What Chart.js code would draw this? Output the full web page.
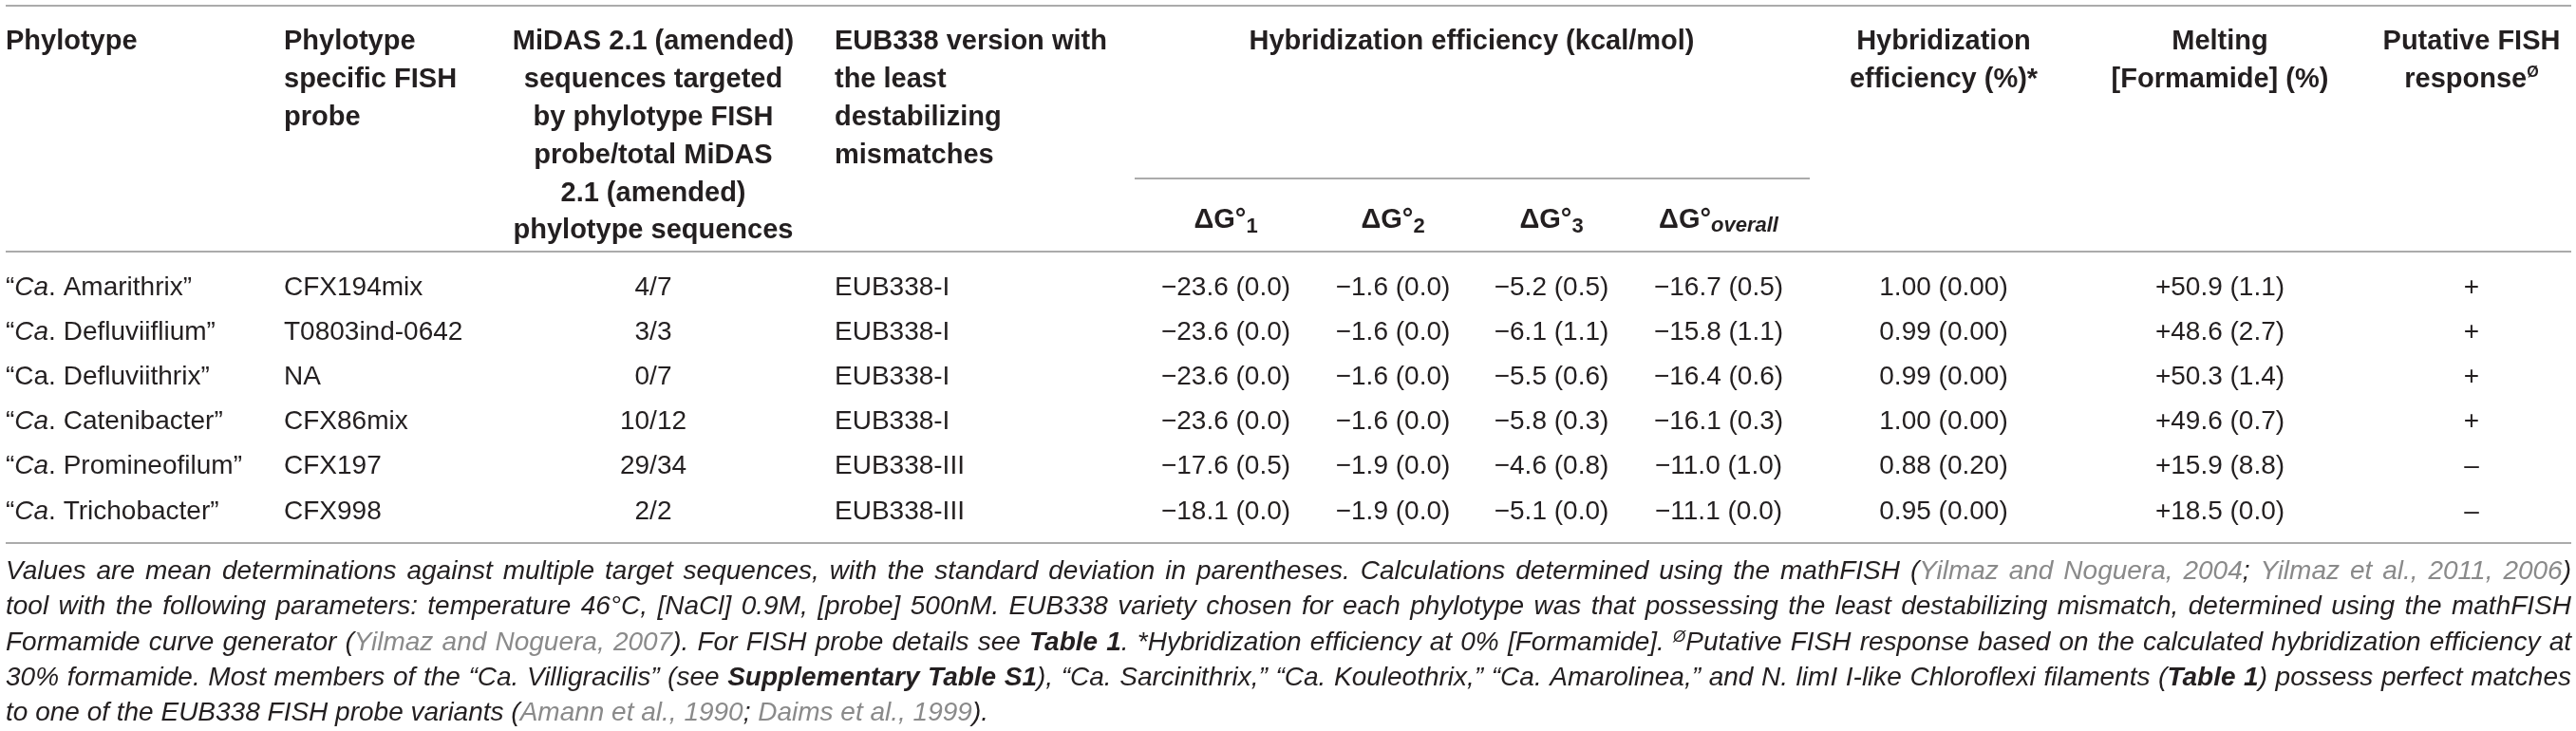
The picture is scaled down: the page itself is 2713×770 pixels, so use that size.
<!DOCTYPE html>
<html lang="en">
<head>
<meta charset="utf-8">
<title>EUB338 hybridization efficiency per phylotype</title>
<script src="https://cdn.jsdelivr.net/npm/chart.js@4.4.1/dist/chart.umd.min.js"></script>
<style>
  html, body { margin: 0; padding: 0; background: #fff; overflow: hidden; }
  #wrap { position: relative; width: 2713px; height: 770px; }
</style>
</head>
<body>
<div id="wrap"><canvas id="tabla"></canvas></div>
<script>
const phylotypes = ['Amarithrix', 'Defluviiflium', 'Defluviithrix', 'Catenibacter', 'Promineofilum', 'Trichobacter'];
const caItalic = [true, true, false, true, true, true];
const probes = ['CFX194mix', 'T0803ind-0642', 'NA', 'CFX86mix', 'CFX197', 'CFX998'];
const targeted = ['4/7', '3/3', '0/7', '10/12', '29/34', '2/2'];
const eubVersion = ['EUB338-I', 'EUB338-I', 'EUB338-I', 'EUB338-I', 'EUB338-III', 'EUB338-III'];
const dG1 = [-23.6, -23.6, -23.6, -23.6, -17.6, -18.1];
const dG1Sd = [0.0, 0.0, 0.0, 0.0, 0.5, 0.0];
const dG2 = [-1.6, -1.6, -1.6, -1.6, -1.9, -1.9];
const dG2Sd = [0.0, 0.0, 0.0, 0.0, 0.0, 0.0];
const dG3 = [-5.2, -6.1, -5.5, -5.8, -4.6, -5.1];
const dG3Sd = [0.5, 1.1, 0.6, 0.3, 0.8, 0.0];
const dGOverall = [-16.7, -15.8, -16.4, -16.1, -11.0, -11.1];
const dGOverallSd = [0.5, 1.1, 0.6, 0.3, 1.0, 0.0];
const hybEfficiency = [1.00, 0.99, 0.99, 1.00, 0.88, 0.95];
const hybEfficiencySd = [0.00, 0.00, 0.00, 0.00, 0.20, 0.00];
const meltingFormamide = [50.9, 48.6, 50.3, 49.6, 15.9, 18.5];
const meltingSd = [1.1, 2.7, 1.4, 0.7, 8.8, 0.0];
const fishResponse = ['+', '+', '+', '+', '–', '–'];

const FONT = '"Liberation Sans", Arial, Helvetica, sans-serif';
const TEXT = '#231f20';
const CITE = '#8a8a8a';
const RULE = '#8f8f8f';

const BODY = { size: 28, bold: false, italic: false, color: TEXT };
const HEAD = { size: 29, bold: true, italic: false, color: TEXT };
const NOTE = { size: 28, bold: false, italic: true, color: TEXT };

// page layout, in the units of the chart scales
const layout = {
    width: 2713, height: 770,
    left: 6, right: 2708,
    topRule: 6, headRule: 265, footRule: 572,
    headY: 42, headStep: 39.8,
    groupRule: { y: 188, x0: 1195, x1: 1906 },
    groupX: 1550,
    dgY: 230,
    rowY: 300.6, rowStep: 47.2,
    noteY: 600, noteStep: 37.3
};

function signed(v, d) {
    return (v < 0 ? '\u2212' : '') + Math.abs(v).toFixed(d);
}

function dgHead(sub, italicSub) {
    return [{ t: 'ΔG°' }, { t: sub, size: 22, italic: italicSub, dy: italicSub ? 4 : 5 }];
}

const columns = [
    { x: 6, align: 'left', head: ['Phylotype'],
      cell: i => [{ t: '\u201C' }, { t: 'Ca', italic: caItalic[i] }, { t: '. ' + phylotypes[i] + '\u201D' }] },
    { x: 299, align: 'left', head: ['Phylotype', 'specific FISH', 'probe'],
      cell: i => [{ t: probes[i] }] },
    { x: 688, align: 'center',
      head: ['MiDAS 2.1 (amended)', 'sequences targeted', 'by phylotype FISH', 'probe/total MiDAS', '2.1 (amended)', 'phylotype sequences'],
      cell: i => [{ t: targeted[i] }] },
    { x: 879, align: 'left', head: ['EUB338 version with', 'the least', 'destabilizing', 'mismatches'],
      cell: i => [{ t: eubVersion[i] }] },
    { x: 1291, align: 'center', dg: dgHead('1', false),
      cell: i => [{ t: signed(dG1[i], 1) + ' (' + dG1Sd[i].toFixed(1) + ')' }] },
    { x: 1467, align: 'center', dg: dgHead('2', false),
      cell: i => [{ t: signed(dG2[i], 1) + ' (' + dG2Sd[i].toFixed(1) + ')' }] },
    { x: 1634, align: 'center', dg: dgHead('3', false),
      cell: i => [{ t: signed(dG3[i], 1) + ' (' + dG3Sd[i].toFixed(1) + ')' }] },
    { x: 1810, align: 'center', dg: dgHead('overall', true),
      cell: i => [{ t: signed(dGOverall[i], 1) + ' (' + dGOverallSd[i].toFixed(1) + ')' }] },
    { x: 2047, align: 'center', head: ['Hybridization', 'efficiency (%)*'],
      cell: i => [{ t: hybEfficiency[i].toFixed(2) + ' (' + hybEfficiencySd[i].toFixed(2) + ')' }] },
    { x: 2338, align: 'center', head: ['Melting', '[Formamide] (%)'],
      cell: i => [{ t: '+' + meltingFormamide[i].toFixed(1) + ' (' + meltingSd[i].toFixed(1) + ')' }] },
    { x: 2603, align: 'center', head: ['Putative FISH', [{ t: 'response' }, { t: 'Ø', size: 16, dy: -11 }]],
      cell: i => [{ t: fishResponse[i] }] }
];

// footnote, one entry per printed line; c = citation grey, b = bold, sup = superscript
const notes = [
    [['Values are mean determinations against multiple target sequences, with the standard deviation in parentheses. Calculations determined using the mathFISH ('],
     ['Yilmaz and Noguera, 2004', 'c'], ['; '], ['Yilmaz et al., 2011, 2006', 'c'], [')']],
    [['tool with the following parameters: temperature 46°C, [NaCl] 0.9M, [probe] 500nM. EUB338 variety chosen for each phylotype was that possessing the least destabilizing mismatch, determined using the mathFISH']],
    [['Formamide curve generator ('], ['Yilmaz and Noguera, 2007', 'c'], ['). For FISH probe details see '], ['Table 1', 'b'],
     ['. *Hybridization efficiency at 0% [Formamide]. '], ['Ø', 'sup'], ['Putative FISH response based on the calculated hybridization efficiency at']],
    [['30% formamide. Most members of the \u201CCa. Villigracilis\u201D (see '], ['Supplementary Table S1', 'b'],
     ['), \u201CCa. Sarcinithrix,\u201D \u201CCa. Kouleothrix,\u201D \u201CCa. Amarolinea,\u201D and N. limI I-like Chloroflexi filaments ('], ['Table 1', 'b'], [') possess perfect matches']],
    [['to one of the EUB338 FISH probe variants ('], ['Amann et al., 1990', 'c'], ['; '], ['Daims et al., 1999', 'c'], [').']]
];

function fontFor(r, base) {
    const italic = r.italic !== undefined ? r.italic : base.italic;
    const bold = r.bold !== undefined ? r.bold : base.bold;
    return (italic ? 'italic ' : '') + (bold ? 'bold ' : '') + (r.size || base.size) + 'px ' + FONT;
}

function asRuns(line) {
    return typeof line === 'string' ? [{ t: line }] : line;
}

function drawRuns(ctx, runs, x, yMid, align, base) {
    const widths = runs.map(r => { ctx.font = fontFor(r, base); return ctx.measureText(r.t).width; });
    const total = widths.reduce((a, b) => a + b, 0);
    let cx = align === 'center' ? x - total / 2 : (align === 'right' ? x - total : x);
    const baseline = yMid + base.size * 0.358;
    ctx.textBaseline = 'alphabetic';
    ctx.textAlign = 'left';
    runs.forEach((r, k) => {
        ctx.font = fontFor(r, base);
        ctx.fillStyle = r.color || base.color;
        ctx.fillText(r.t, cx, baseline + (r.dy || 0));
        cx += widths[k];
    });
}

function noteRun(t, kind) {
    if (kind === 'c') return { t, color: CITE };
    if (kind === 'b') return { t, bold: true };
    if (kind === 'sup') return { t, size: 17, dy: -9 };
    return { t };
}

// split runs into words and gaps so the line can be justified
function tokenize(runs) {
    const items = [];
    runs.forEach(r => {
        r.t.split(' ').forEach((p, k) => {
            if (k > 0 && items.length && !items[items.length - 1].gap) items.push({ gap: true });
            if (p) items.push(Object.assign({}, r, { t: p }));
        });
    });
    while (items.length && items[items.length - 1].gap) items.pop();
    return items;
}

function drawNoteLine(ctx, runs, x0, x1, yMid, justify) {
    const items = tokenize(runs);
    ctx.font = fontFor({}, NOTE);
    const space = ctx.measureText(' ').width;
    let words = 0, gaps = 0;
    items.forEach(it => {
        if (it.gap) { gaps++; return; }
        ctx.font = fontFor(it, NOTE);
        it.w = ctx.measureText(it.t).width;
        words += it.w;
    });
    const avail = x1 - x0;
    let gapW = space, sx = 1;
    if (justify && gaps) {
        gapW = (avail - words) / gaps;
        if (gapW < space * 0.6) { gapW = space * 0.6; sx = avail / (words + gaps * gapW); }
    }
    const baseline = yMid + NOTE.size * 0.358;
    ctx.save();
    ctx.translate(x0, 0);
    ctx.scale(sx, 1);
    ctx.textBaseline = 'alphabetic';
    ctx.textAlign = 'left';
    let cx = 0;
    items.forEach(it => {
        if (it.gap) { cx += gapW; return; }
        ctx.font = fontFor(it, NOTE);
        ctx.fillStyle = it.color || NOTE.color;
        ctx.fillText(it.t, cx, baseline + (it.dy || 0));
        cx += it.w;
    });
    ctx.restore();
}

const tablePlugin = {
    id: 'tableText',
    afterDatasetsDraw(chart) {
        const { ctx } = chart;
        const sx = chart.scales.x, sy = chart.scales.y;
        ctx.save();

        // column headings
        columns.forEach(col => {
            const px = sx.getPixelForValue(col.x);
            (col.head || []).forEach((line, k) => {
                drawRuns(ctx, asRuns(line), px, sy.getPixelForValue(layout.headY + k * layout.headStep), col.align, HEAD);
            });
            if (col.dg) drawRuns(ctx, col.dg, px, sy.getPixelForValue(layout.dgY), 'center', HEAD);
        });
        drawRuns(ctx, [{ t: 'Hybridization efficiency (kcal/mol)' }], sx.getPixelForValue(layout.groupX),
            sy.getPixelForValue(layout.headY), 'center', HEAD);

        // body cells sit on the scatter points
        chart.data.datasets.forEach((ds, di) => {
            if (ds.colIndex === undefined) return;
            const col = columns[ds.colIndex];
            chart.getDatasetMeta(di).data.forEach((pt, i) => {
                drawRuns(ctx, col.cell(i), pt.x, pt.y, col.align, BODY);
            });
        });

        // footnote
        const x0 = sx.getPixelForValue(layout.left), x1 = sx.getPixelForValue(layout.right);
        notes.forEach((line, k) => {
            const runs = line.map(seg => noteRun(seg[0], seg[1]));
            drawNoteLine(ctx, runs, x0, x1, sy.getPixelForValue(layout.noteY + k * layout.noteStep), k < notes.length - 1);
        });
        ctx.restore();
    }
};

function ruleSet(x0, x1, y) {
    return {
        type: 'line',
        data: [{ x: x0, y }, { x: x1, y }],
        borderColor: RULE,
        borderWidth: 1.5,
        pointRadius: 0,
        showLine: true,
        fill: false
    };
}

function crearTabla() {
    const rules = [
        ruleSet(layout.left, layout.right, layout.topRule),
        ruleSet(layout.groupRule.x0, layout.groupRule.x1, layout.groupRule.y),
        ruleSet(layout.left, layout.right, layout.headRule),
        ruleSet(layout.left, layout.right, layout.footRule)
    ];
    const cells = columns.map((col, c) => ({
        colIndex: c,
        data: phylotypes.map((_, i) => ({ x: col.x, y: layout.rowY + i * layout.rowStep })),
        pointRadius: 0,
        pointHoverRadius: 0,
        showLine: false
    }));

    new Chart(document.getElementById('tabla'), {
        type: 'scatter',
        data: { datasets: rules.concat(cells) },
        options: {
            responsive: true,
            maintainAspectRatio: false,
            animation: false,
            events: [],
            layout: { padding: 0 },
            plugins: { legend: { display: false }, tooltip: { enabled: false } },
            scales: {
                x: { type: 'linear', min: 0, max: layout.width, display: false },
                y: { type: 'linear', min: 0, max: layout.height, reverse: true, display: false }
            }
        },
        plugins: [tablePlugin]
    });
}

crearTabla();
</script>
</body>
</html>
